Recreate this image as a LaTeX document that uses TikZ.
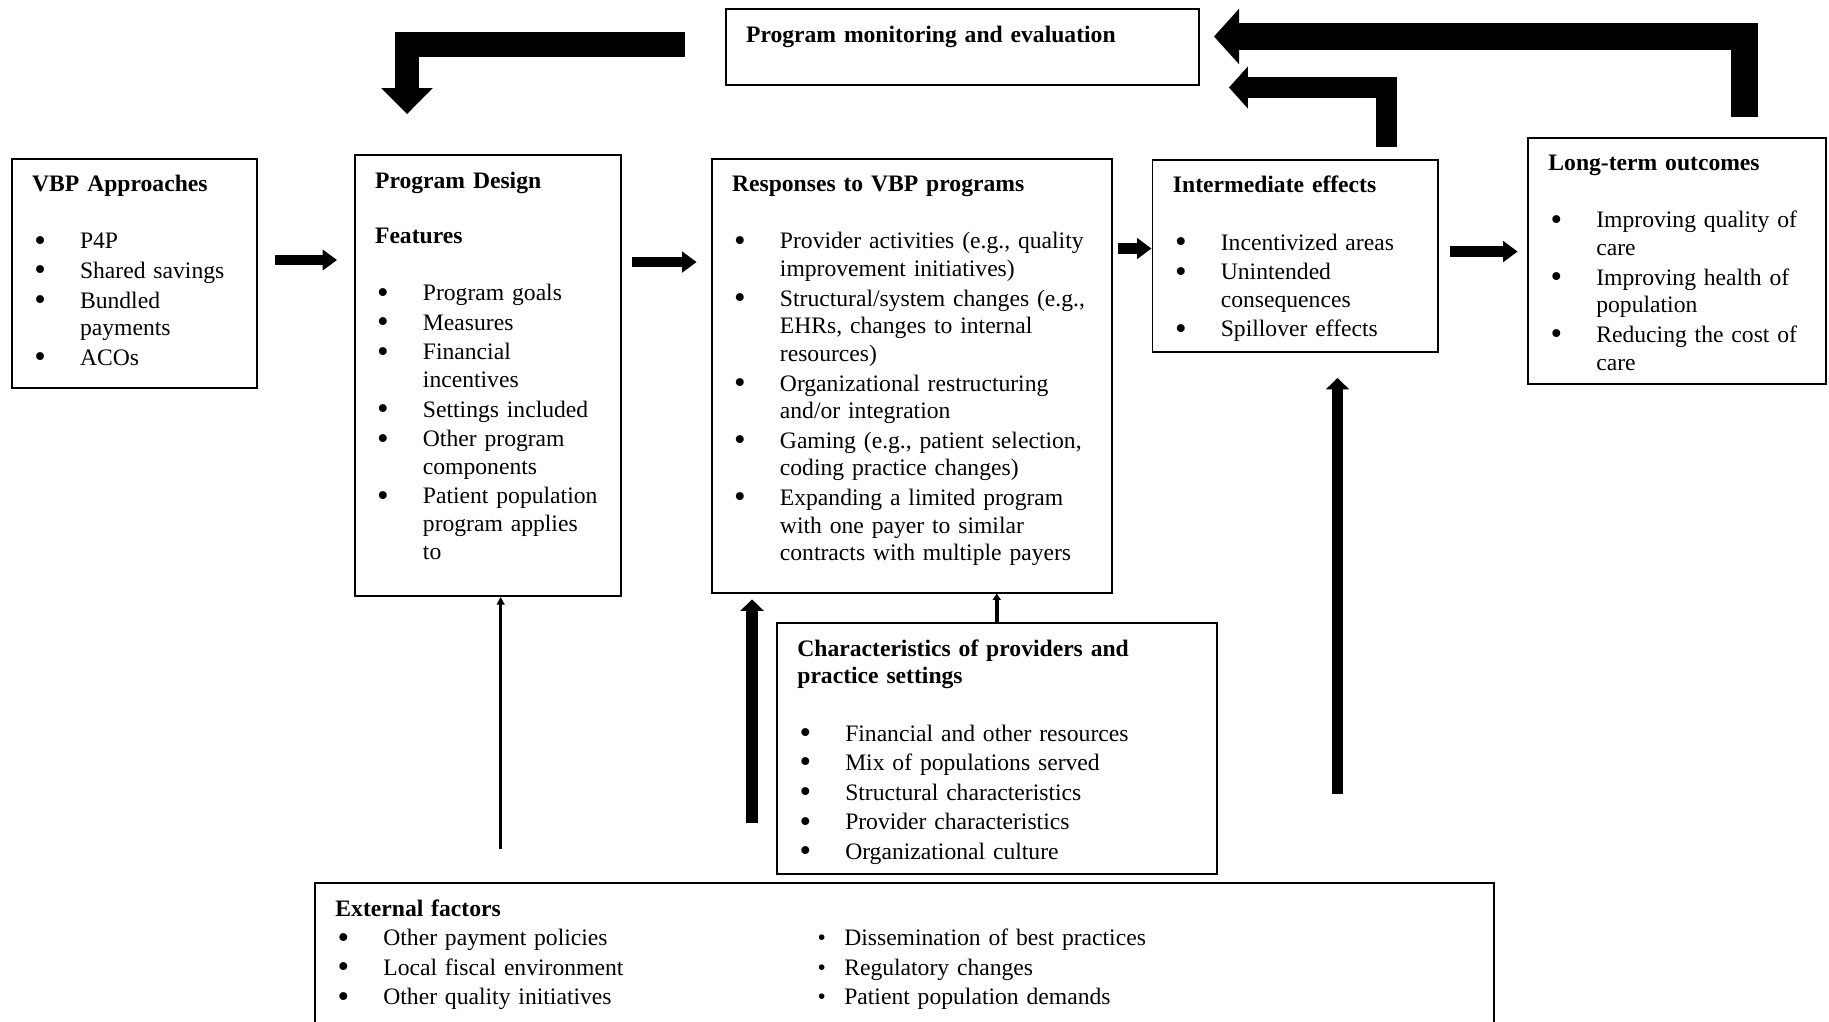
\documentclass[tikz,border=0pt]{standalone}
\usepackage{fontspec}
\setmainfont{Liberation Serif}
\usepackage{graphicx}
\usetikzlibrary{arrows.meta,calc,fit}

\newcommand{\head}[1]{\strut\textbf{#1}}
\newcommand{\bul}{\raisebox{-1.1pt}{\scalebox{1.4}{\textbullet}}}
\newcommand{\bitem}[1]{\par\vspace{0.9pt}\hangindent=22.5pt\hangafter=1\noindent\makebox[22.5pt][l]{\hspace{1pt}\bul}#1}
\newcommand{\sbul}{\makebox[14pt][l]{\hspace{1.5pt}\raisebox{0.1pt}{\scalebox{1.0}{\textbullet}}}}

\tikzset{
  box/.style={draw, line width=0.9pt, inner sep=0pt},
  txt/.style={anchor=north west, inner sep=0pt, align=left, font=\fontsize{11.1}{13}\selectfont},
  flow/.style={line width=4.8pt, -{Triangle[width=9.5pt,length=6.8pt]}},
  upflow/.style={line width=5.4pt, -{Triangle[width=10.8pt,length=5.4pt]}},
  thinflow/.style={line width=1.1pt, -{Triangle[width=3.6pt,length=3.6pt]}},
}

\begin{document}
\begin{tikzpicture}[x=0.47pt,y=-0.47pt]
  \useasboundingbox (0,0) rectangle (1829,1021);
  \clip (0,0) rectangle (1829,1021);

  \node[box, fit={(725.6,9.3) (1199.2,85.2)}] (monitor) {};
  \node[box, fit={(11.7,158.6) (256.6,388.4)}] (vbp) {};
  \node[box, fit={(354.6,155.1) (620.6,596)}] (design) {};
  \node[box, fit={(711.6,158.6) (1111.6,592.6)}] (resp) {};
  \node[box, fit={(1152.5,159.8) (1438.3,352.3)}] (inter) {};
  \node[box, fit={(1528,137.6) (1825.6,383.8)}] (longterm) {};
  \node[box, fit={(776.9,623) (1216.6,873.7)}] (chars) {};
  \node[box, fit={(315,883) (1494,1040)}] (ext) {};

  \node[txt, text width=200pt] (monitortxt) at ($(monitor.north west)+(21,14.3)$)
    {\head{Program monitoring and evaluation}\par};
  \node[txt, text width=105pt] (vbptxt) at ($(vbp.north west)+(21,14.3)$)
    {\head{VBP Approaches}\par\vspace{13pt}
     \bitem{P4P}\bitem{Shared savings}\bitem{Bundled\newline payments}\bitem{ACOs}\par};
  \node[txt, text width=115pt] (designtxt) at ($(design.north west)+(21,14.3)$)
    {\head{Program Design}\par\vspace{13pt}
     \textbf{Features}\par\vspace{13pt}
     \bitem{Program goals}\bitem{Measures}\bitem{Financial\newline incentives}
     \bitem{Settings included}\bitem{Other program\newline components}
     \bitem{Patient population\newline program applies\newline to}\par};
  \node[txt, text width=180pt] (resptxt) at ($(resp.north west)+(21,14.3)$)
    {\head{Responses to VBP programs}\par\vspace{13pt}
     \bitem{Provider activities (e.g., quality\newline improvement initiatives)}
     \bitem{Structural/system changes (e.g.,\newline EHRs, changes to internal\newline resources)}
     \bitem{Organizational restructuring\newline and/or integration}
     \bitem{Gaming (e.g., patient selection,\newline coding practice changes)}
     \bitem{Expanding a limited program\newline with one payer to similar\newline contracts with multiple payers}\par};
  \node[txt, text width=125pt] (intertxt) at ($(inter.north west)+(21,14.3)$)
    {\head{Intermediate effects}\par\vspace{13pt}
     \bitem{Incentivized areas}\bitem{Unintended\newline consequences}\bitem{Spillover effects}\par};
  \node[txt, text width=130pt] (longtermtxt) at ($(longterm.north west)+(21,14.3)$)
    {\head{Long-term outcomes}\par\vspace{13pt}
     \bitem{Improving quality of\newline care}\bitem{Improving health of\newline population}
     \bitem{Reducing the cost of\newline care}\par};
  \node[txt, text width=190pt] (charstxt) at ($(chars.north west)+(21,14.3)$)
    {\head{Characteristics of providers and}\par
     \textbf{practice settings}\par\vspace{13pt}
     \bitem{Financial and other resources}\bitem{Mix of populations served}
     \bitem{Structural characteristics}\bitem{Provider characteristics}
     \bitem{Organizational culture}\par};
  \node[txt, text width=180pt] (exttxt) at ($(ext.north west)+(21,14.3)$)
    {\head{External factors}
     \bitem{Other payment policies}\bitem{Local fiscal environment}
     \bitem{Other quality initiatives}\par};
  \node[txt, text width=180pt] (exttxt2) at ($(ext.north west)+(500,43.9)$)
    {\strut\sbul Dissemination of best practices\par\vspace{0.9pt}
     \sbul Regulatory changes\par\vspace{0.9pt}
     \sbul Patient population demands\par};

  \draw[line width=11.3pt, -{Triangle[width=23.5pt,length=12.2pt]}]
    ($(monitor.west)+(-39.6,-2.75)$) -| ($(design.north west)+(53.4,-40.1)$);
  \draw[line width=12.7pt, -{Triangle[width=25.4pt,length=11.8pt]}]
    ($(longterm.north)+(67.7,-19.6)$) |- ($(monitor.east)+(13.8,-10.75)$);
  \draw[line width=10.3pt, -{Triangle[width=19.3pt,length=8.9pt]}]
    ($(inter.north)+(91.1,-11.8)$) |- ($(monitor.east)+(28.8,40.25)$);

  \draw[flow] ($(vbp.east)+(17.4,-13.5)$) -- ($(design.west |- vbp.east)+(-16.6,-13.5)$);
  \draw[flow] ($(design.east)+(10.4,-113.5)$) -- ($(resp.west |- design.east)+(-14,-113.5)$);
  \draw[flow] ($(resp.east)+(5.4,-127.1)$) -- ($(inter.west |- resp.east)+(0,-127.1)$);
  \draw[flow] ($(inter.east)+(10.7,-4.5)$) -- ($(longterm.west |- inter.east)+(-9.4,-4.5)$);

  \draw[thinflow] ($(design.south west)+(147,252)$) -- ($(design.south west)+(147,0)$);
  \draw[upflow] ($(resp.south west)+(41.4,229.8)$) -- ($(resp.south west)+(41.4,5.8)$);
  \draw[line width=1.9pt, -{Triangle[width=3.8pt,length=3pt]}] (chars.north) -- (chars.north |- resp.south);
  \draw[upflow] ($(inter.south)+(42.1,440.7)$) -- ($(inter.south)+(42.1,24.7)$);
\end{tikzpicture}
\end{document}
